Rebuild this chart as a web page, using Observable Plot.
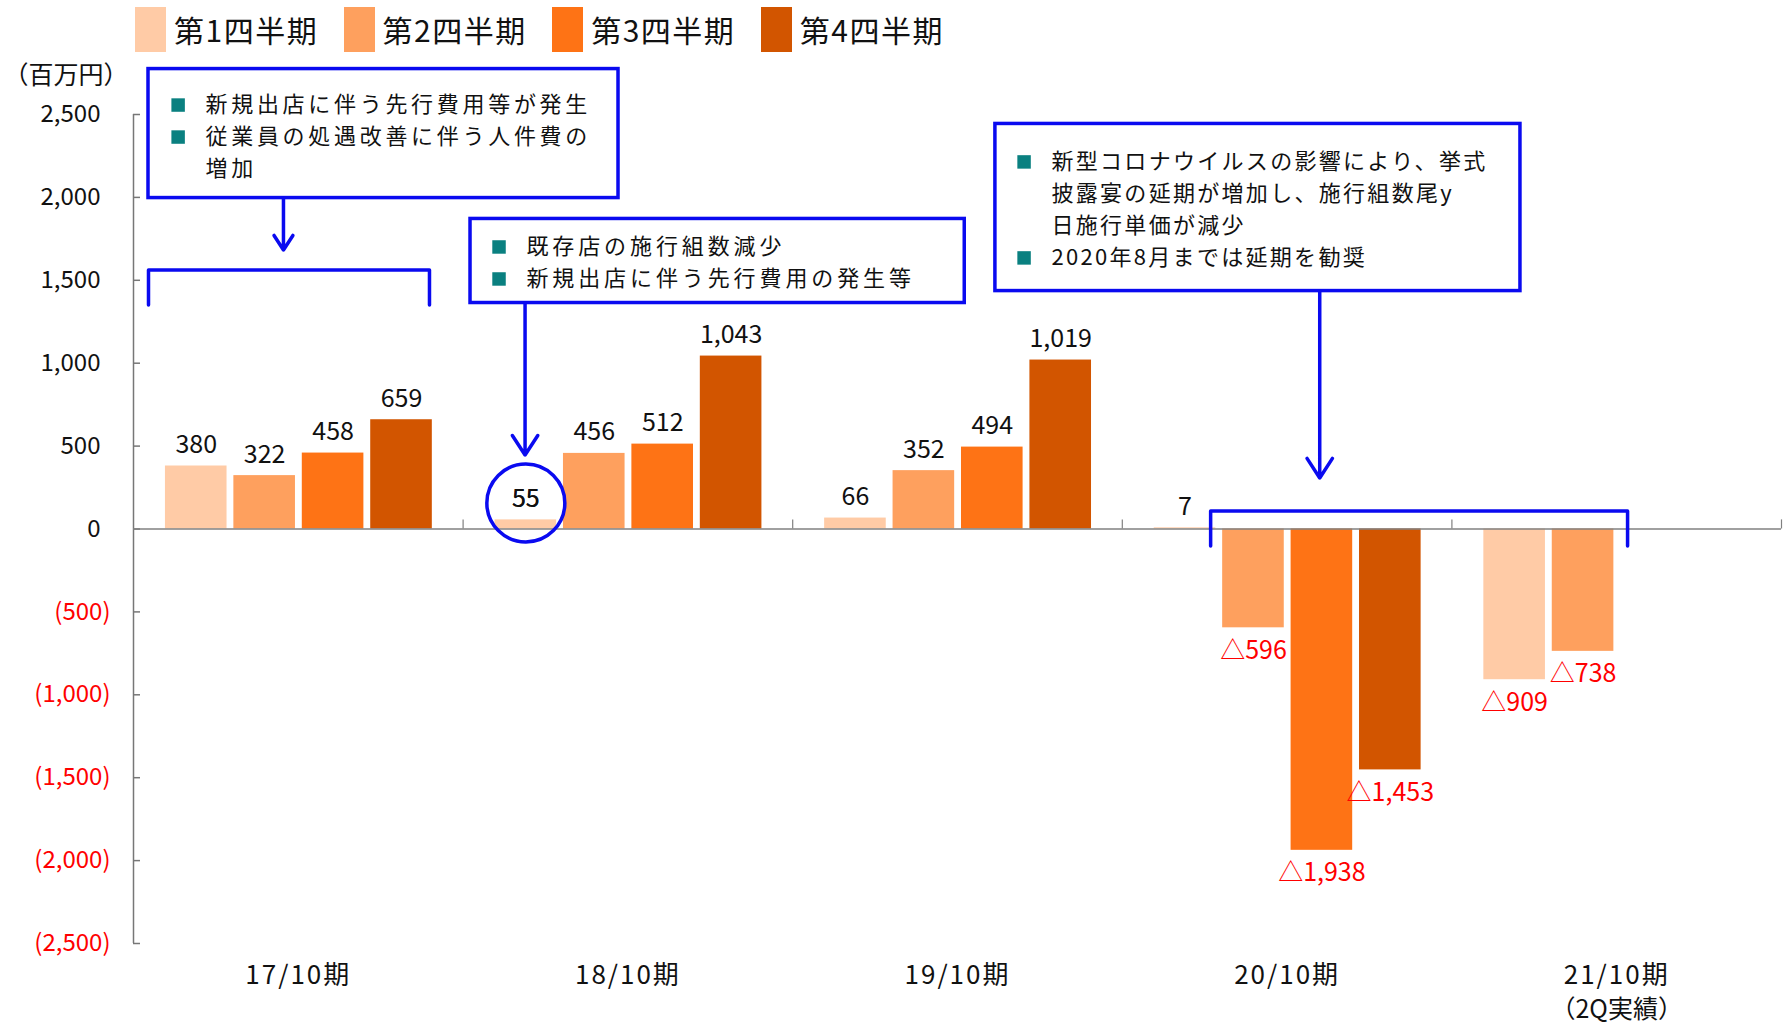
<!DOCTYPE html>
<html><head><meta charset="utf-8">
<script src="https://cdn.jsdelivr.net/npm/d3@7"></script>
<script src="https://cdn.jsdelivr.net/npm/@observablehq/plot@0.6"></script>
<style>
body{margin:0;background:#fff;font-family:'Noto Sans CJK JP',sans-serif;}
#legend{position:relative;height:40px;width:1788px;z-index:2}
.item{position:absolute;top:0;height:58px;display:flex;align-items:center;}
.sw{width:31px;height:45px;margin-right:8px}
.lt{font-size:30px;color:#111;white-space:nowrap;letter-spacing:1.5px}
#chart{position:relative;z-index:1}
</style></head><body>
<div id="legend"></div><div id="chart"></div>
<script>
// ---- data ----
const periods = ["17/10期","18/10期","19/10期","20/10期","21/10期"];
const periodNotes = ["","","","","（2Q実績）"];
const quarters = ["第1四半期","第2四半期","第3四半期","第4四半期"];
const q1 = [380, 55, 66, 7, -909];
const q2 = [322, 456, 352, -596, -738];
const q3 = [458, 512, 494, -1938, null];
const q4 = [659, 1043, 1019, -1453, null];
const yTicks = [2500, 2000, 1500, 1000, 500, 0, -500, -1000, -1500, -2000, -2500];
const yTickLabels = ["2,500","2,000","1,500","1,000","500","0","(500)","(1,000)","(1,500)","(2,000)","(2,500)"];
const yUnit = "（百万円）";
const note1 = ["新規出店に伴う先行費用等が発生", "従業員の処遇改善に伴う人件費の", "増加"];
const note2 = ["既存店の施行組数減少", "新規出店に伴う先行費用の発生等"];
const note3 = ["新型コロナウイルスの影響により、挙式", "披露宴の延期が増加し、施行組数尾y", "日施行単価が減少", "2020年8月までは延期を勧奨"];

// ---- styles ----
const quarterColors = ["#FFCBA6", "#FEA05E", "#FE7315", "#D25500"];
const blue = "#0a0af0";
const teal = "#0a8080";
const font = "'Noto Sans CJK JP', sans-serif";

// legend
const legend = document.getElementById("legend");
quarters.forEach((q, i) => {
  const it = document.createElement("div");
  it.className = "item";
  it.style.left = (135 + i * 208.6) + "px";
  it.innerHTML = `<div class="sw" style="background:${quarterColors[i]}"></div><span class="lt">${q}</span>`;
  legend.appendChild(it);
});

// table built from arrays
const series = [q1, q2, q3, q4];
const rows = [];
periods.forEach((p, gi) => series.forEach((s, qi) => {
  if (s[gi] != null) rows.push({period: p, gi, qi, value: s[gi]});
}));
// layout inside a group (group width = 1 x-unit)
const PAD = 0.0969, STEP = 0.2076, BW = 0.1869;
const bx1 = d => d.gi + PAD + d.qi * STEP;
const bx2 = d => bx1(d) + BW;
const bxc = d => bx1(d) + BW / 2;
const fmt = d3.format(",");

// annotation layout (x in group units, y in value units)
const boxes = [
  {x1: 0.0455, x2: 1.4715, y1: 1996, y2: 2774, tx: 0.2184, ty: 2557, lines: note1, bullets: [true, true, false], ls: 3.7},
  {x1: 1.0225, x2: 2.522, y1: 1363, y2: 1870, tx: 1.192, ty: 1701, lines: note2, bullets: [true, true], ls: 3.9},
  {x1: 2.615, x2: 4.208, y1: 1435, y2: 2443, tx: 2.785, ty: 2214, lines: note3, bullets: [true, false, false, true], ls: 2.3}
];
const LINE = 193; // value units per text line
const noteText = [];
boxes.forEach((b, bi) => b.lines.forEach((t, k) => noteText.push({bi, x: b.tx, y: b.ty - k * LINE, text: t, bullet: b.bullets[k]})));
const arrows = [
  {x: 0.455, y1: 1996, y2: 1683},
  {x: 1.188, y1: 1363, y2: 446},
  {x: 3.599, y1: 1435, y2: 308}
];
const brackets = [
  {x1: 0.0455, x2: 0.898, y: 1562, yLeg: 1351},
  {x1: 3.268, x2: 4.533, y: 109, yLeg: -103}
];
const bracketPts = brackets.flatMap((b, k) => [
  {k, x: b.x1, y: b.yLeg}, {k, x: b.x1, y: b.y}, {k, x: b.x2, y: b.y}, {k, x: b.x2, y: b.yLeg}
]);
const circles = [{x: 1 + PAD + BW / 2, y: 157}];

const tickRows = yTicks.map((v, i) => ({v, label: yTickLabels[i]}));

const chart = Plot.plot({
  width: 1788, height: 986,
  marginTop: 74, marginBottom: 83, marginLeft: 133, marginRight: 7,
  x: {domain: [0, periods.length], axis: null},
  y: {domain: [-2500, 2500], axis: null},
  style: {fontFamily: font, background: "transparent", color: "#111", overflow: "visible"},
  marks: [
    // y axis line and inward ticks
    Plot.ruleX([0], {y1: -2500, y2: 2500, stroke: "#777", strokeWidth: 1.5}),
    Plot.ruleY(yTicks, {x1: 0, x2: 0, insetRight: -7, stroke: "#777", strokeWidth: 1.5}),
    // bars
    Plot.rect(rows, {x1: bx1, x2: bx2, y1: 0, y2: "value", fill: d => quarterColors[d.qi]}),
    // baseline + group ticks
    Plot.ruleY([0], {x1: 0, x2: periods.length, stroke: "#808080", strokeWidth: 1.5}),
    Plot.ruleX(periods.map((_, i) => i + 1), {y1: 0, y2: 55, stroke: "#808080", strokeWidth: 1.2}),
    // y tick labels
    Plot.text(tickRows.filter(d => d.v >= 0), {y: "v", text: "label", frameAnchor: "left", textAnchor: "end", dx: -33, fontSize: 24, fill: "#111"}),
    Plot.text(tickRows.filter(d => d.v < 0), {y: "v", text: "label", frameAnchor: "left", textAnchor: "end", dx: -23, fontSize: 24, fill: "#ff0000"}),
    Plot.text([yUnit], {frameAnchor: "top-left", text: d => d, textAnchor: "start", lineAnchor: "middle", dx: -130, dy: -39, fontSize: 25, fill: "#111"}),
    // category labels
    Plot.text(periods, {x: (d, i) => i + 0.5, frameAnchor: "bottom", text: d => d, lineAnchor: "middle", dy: 32, fontSize: 26, fill: "#111"}),
    Plot.text(periodNotes, {x: (d, i) => i + 0.5, frameAnchor: "bottom", text: d => d, lineAnchor: "middle", dy: 66, fontSize: 25, fill: "#111"}),
    // value labels
    Plot.text(rows.filter(d => d.value >= 0), {x: bxc, y: "value", text: d => fmt(d.value), dy: -21, fontSize: 25, fill: "#111"}),
    Plot.text(rows.filter(d => d.value < 0), {x: bxc, y: "value", text: d => "△" + fmt(-d.value), dy: 23, fontSize: 25, fill: "#ff0000"}),
    // annotations
    Plot.rect(boxes, {x1: "x1", x2: "x2", y1: "y1", y2: "y2", fill: "white", stroke: blue, strokeWidth: 3.5}),
    Plot.dot(noteText.filter(d => d.bullet), {x: d => d.x - 0.083, y: "y", symbol: "square", r: 7.6, fill: teal}),
    Plot.text(noteText, {x: "x", y: "y", text: "text", textAnchor: "start", fontSize: 22, fill: "#111"}),
    Plot.arrow(arrows, {x1: "x", x2: "x", y1: "y1", y2: "y2", stroke: blue, strokeWidth: 3.5, headLength: 10, headAngle: 66}),
    Plot.line(bracketPts, {x: "x", y: "y", z: "k", stroke: blue, strokeWidth: 3.5, curve: "linear"}),
    Plot.dot(circles, {x: "x", y: "y", r: 39, stroke: blue, strokeWidth: 3.5, fill: "none"}),
    Plot.text(rows.filter(d => d.gi === 1 && d.qi === 0), {x: bxc, y: "value", text: d => fmt(d.value), dy: -21, fontSize: 25, fill: "#111"})
  ]
});
// letter spacing (not a Plot text option): applied by text content
chart.querySelectorAll("text").forEach(t => {
  const s = t.textContent;
  const b = boxes.find(b => b.lines.includes(s));
  let ls = null;
  if (b) ls = b.ls;
  else if (periods.includes(s)) ls = 2;
  if (ls != null) { t.setAttribute("letter-spacing", ls); t.style.letterSpacing = ls + "px"; }
});
document.getElementById("chart").appendChild(chart);
</script>
</body></html>
